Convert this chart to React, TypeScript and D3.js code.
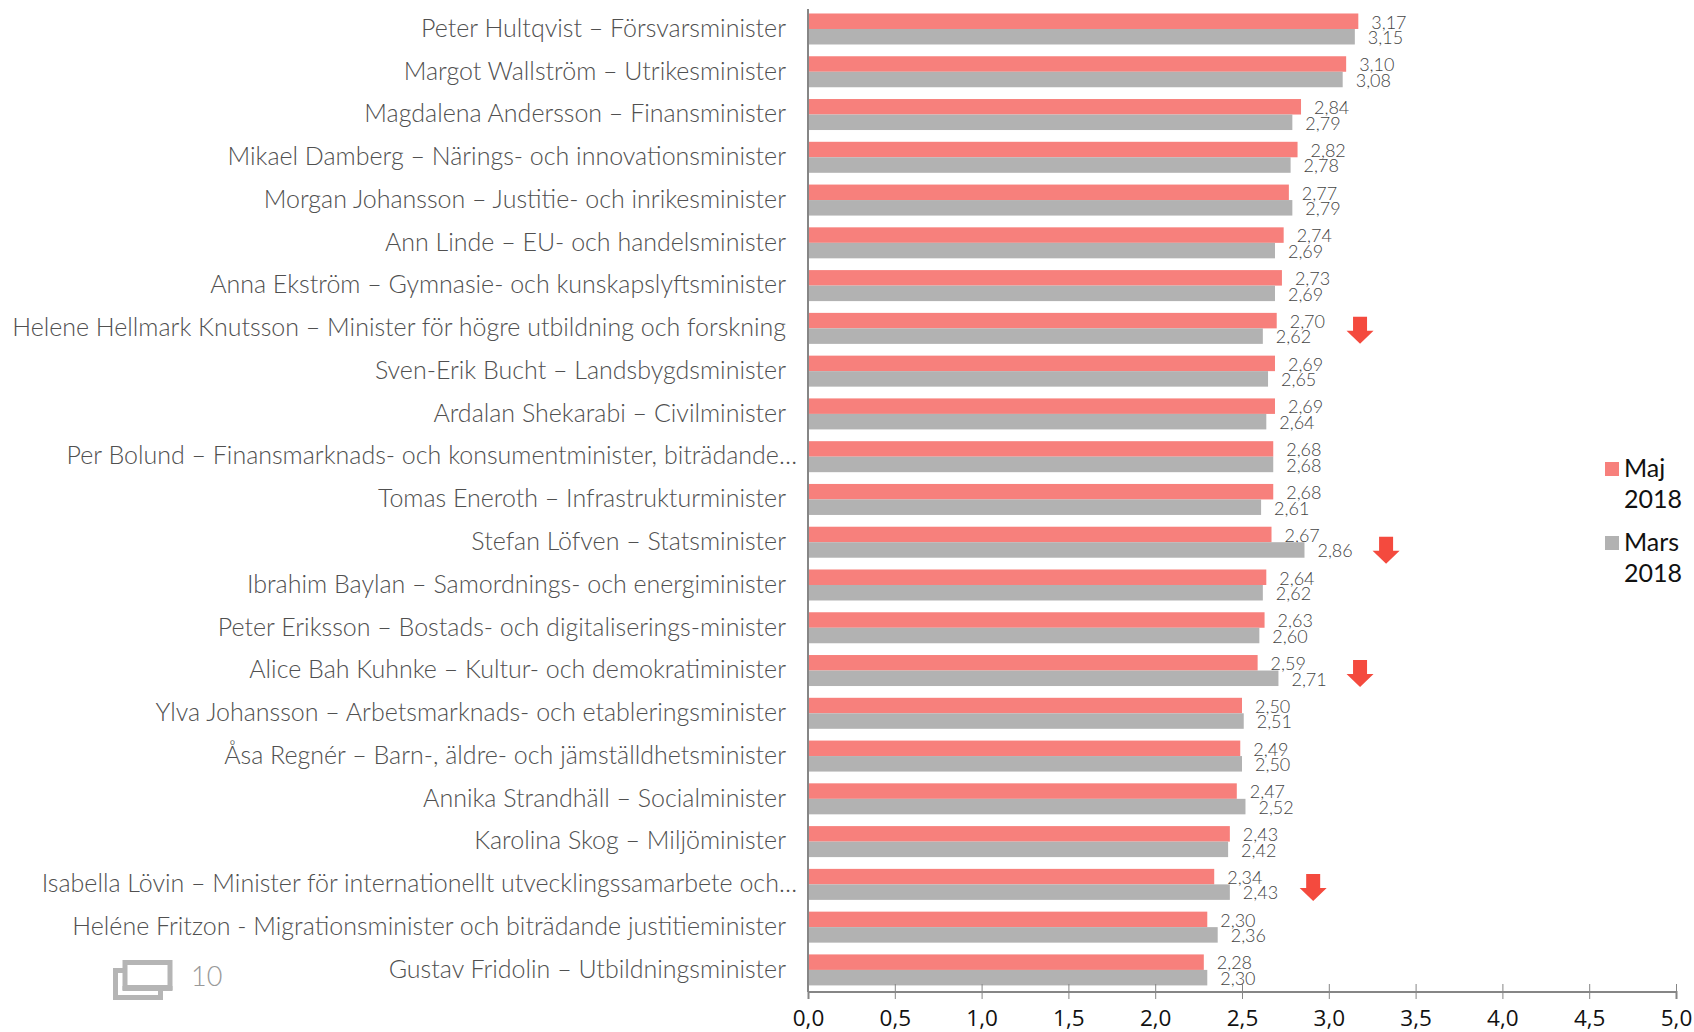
import React, { useEffect, useRef } from 'react';
import * as d3 from 'd3';

const ministers = [
  'Peter Hultqvist – Försvarsminister',
  'Margot Wallström – Utrikesminister',
  'Magdalena Andersson – Finansminister',
  'Mikael Damberg – Närings- och innovationsminister',
  'Morgan Johansson – Justitie- och inrikesminister',
  'Ann Linde – EU- och handelsminister',
  'Anna Ekström – Gymnasie- och kunskapslyftsminister',
  'Helene Hellmark Knutsson – Minister för högre utbildning och forskning',
  'Sven-Erik Bucht – Landsbygdsminister',
  'Ardalan Shekarabi – Civilminister',
  'Per Bolund – Finansmarknads- och konsumentminister, biträdande…',
  'Tomas Eneroth – Infrastrukturminister',
  'Stefan Löfven – Statsminister',
  'Ibrahim Baylan – Samordnings- och energiminister',
  'Peter Eriksson – Bostads- och digitaliserings-minister',
  'Alice Bah Kuhnke – Kultur- och demokratiminister',
  'Ylva Johansson – Arbetsmarknads- och etableringsminister',
  'Åsa Regnér – Barn-, äldre- och jämställdhetsminister',
  'Annika Strandhäll – Socialminister',
  'Karolina Skog – Miljöminister',
  'Isabella Lövin – Minister för internationellt utvecklingssamarbete och…',
  'Heléne Fritzon - Migrationsminister och biträdande justitieminister',
  'Gustav Fridolin – Utbildningsminister',
];
const maj2018 = [3.17, 3.1, 2.84, 2.82, 2.77, 2.74, 2.73, 2.7, 2.69, 2.69, 2.68, 2.68, 2.67, 2.64, 2.63, 2.59, 2.5, 2.49, 2.47, 2.43, 2.34, 2.3, 2.28];
const mars2018 = [3.15, 3.08, 2.79, 2.78, 2.79, 2.69, 2.69, 2.62, 2.65, 2.64, 2.68, 2.61, 2.86, 2.62, 2.6, 2.71, 2.51, 2.5, 2.52, 2.42, 2.43, 2.36, 2.3];
const xTicks = [0, 0.5, 1, 1.5, 2, 2.5, 3, 3.5, 4, 4.5, 5];
const arrowRows = [7, 12, 15, 20];
const arrowValues = [3.18, 3.33, 3.18, 2.91];
const arrowOffsets = [2, 8, 3, 3];
const seriesNames = ['Maj', 'Mars'];
const seriesColors = ['#f7807c', '#b2b2b2'];

const LABEL_FONT = 'Lato, "Open Sans", sans-serif';
const fmt = (v: number) => v.toFixed(2).replace('.', ',');

export default function App() {
  const ref = useRef<SVGSVGElement>(null);

  useEffect(() => {
    const svg = d3.select(ref.current);
    svg.selectAll('*').remove();

    const x = d3.scaleLinear().domain([0, 5]).range([808, 1676]);
    const y = d3.scaleBand().domain(ministers).range([7.6, 991.3]);
    const inner = d3.scaleBand().domain(seriesNames).range([-15.5, 15.5]);
    const series = [maj2018, mars2018];

    const rows = svg.append('g').selectAll('g').data(ministers).enter().append('g')
      .attr('transform', d => `translate(0,${y(d)! + y.bandwidth() / 2})`);

    rows.append('text')
      .attr('x', d => (d.endsWith('…') ? 797 : 786))
      .attr('y', -1)
      .attr('dy', '0.35em')
      .attr('text-anchor', 'end')
      .attr('font-family', LABEL_FONT)
      .attr('font-weight', 300)
      .attr('font-size', 25)
      .attr('fill', '#505050')
      .text(d => d);

    series.forEach((values, s) => {
      rows.append('rect')
        .attr('x', x(0))
        .attr('y', inner(seriesNames[s])!)
        .attr('width', (_, i) => x(values[i]) - x(0))
        .attr('height', inner.bandwidth())
        .attr('fill', seriesColors[s]);

      rows.append('text')
        .attr('x', (_, i) => x(values[i]) + 13)
        .attr('y', inner(seriesNames[s])! + inner.bandwidth() / 2 + 1)
        .attr('dy', '0.35em')
        .attr('font-family', LABEL_FONT)
        .attr('font-size', 18)
        .attr('font-weight', 300)
        .attr('fill', '#444')
        .text((_, i) => fmt(values[i]));
    });

    // red arrows for the ministers that dropped
    svg.append('g').selectAll('path').data(arrowRows).enter().append('path')
      .attr('transform', (d, i) => `translate(${x(arrowValues[i])},${y(ministers[d])! + y.bandwidth() / 2 + arrowOffsets[i]})`)
      .attr('d', 'M-7,-13.5H7V0.5H13.5L0,13.5L-13.5,0.5H-7Z')
      .attr('fill', '#f44a3e');

    svg.append('line')
      .attr('x1', x(0)).attr('x2', x(0))
      .attr('y1', 9).attr('y2', 992)
      .attr('stroke', '#868686').attr('stroke-width', 2);

    const axis = svg.append('g')
      .attr('transform', 'translate(0,991.5)')
      .call(d3.axisBottom(x).tickValues(xTicks).tickSize(7.5).tickPadding(11).tickFormat(d => (d as number).toFixed(1).replace('.', ',')));
    axis.select('.domain').attr('stroke', '#868686').attr('stroke-width', 2);
    axis.selectAll('.tick line').attr('stroke', '#868686').attr('y1', -7.5);
    axis.selectAll('text')
      .attr('font-family', '"Open Sans", sans-serif')
      .attr('font-size', 22.5)
      .attr('fill', '#111');

    // legend
    const legend = svg.append('g');
    const legendY = [462, 536];
    seriesNames.forEach((name, i) => {
      legend.append('rect')
        .attr('x', 1605).attr('y', legendY[i]).attr('width', 14).attr('height', 14)
        .attr('fill', seriesColors[i]);
      const t = legend.append('text')
        .attr('font-family', LABEL_FONT)
        .attr('font-size', 25)
        .attr('fill', '#111');
      t.append('tspan').attr('x', 1624).attr('y', legendY[i] + 15).text(name);
      t.append('tspan').attr('x', 1624).attr('y', legendY[i] + 46).text('2018');
    });

    // image counter, bottom left
    const icon = svg.append('g').attr('stroke', '#b5b5b5').attr('stroke-width', 5);
    icon.append('rect').attr('x', 115.5).attr('y', 970.5).attr('width', 45).attr('height', 27).attr('fill', '#fff');
    icon.append('rect').attr('x', 125).attr('y', 962.5).attr('width', 45).attr('height', 25).attr('fill', '#fff');
    icon.append('line').attr('x1', 122.5).attr('x2', 172.5).attr('y1', 988.5).attr('y2', 988.5);
    svg.append('text')
      .attr('x', 191).attr('y', 986)
      .attr('font-family', LABEL_FONT).attr('font-weight', 300).attr('font-size', 27)
      .attr('fill', '#999')
      .text('10');
  }, []);

  return (
    <svg ref={ref} width={1694} height={1032} style={{ position: 'absolute', left: 0, top: 0 }} />
  );
}
